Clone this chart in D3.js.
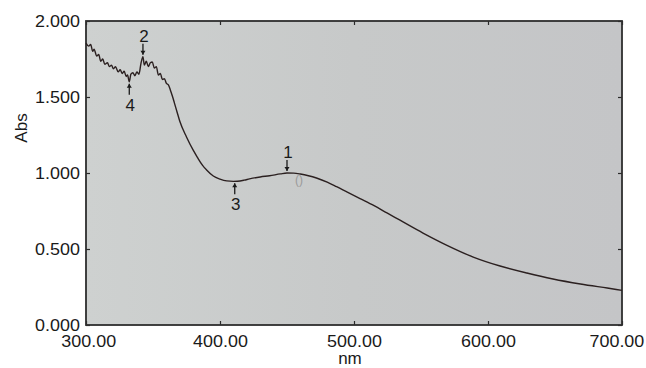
<!DOCTYPE html>
<html>
<head>
<meta charset="utf-8">
<script src="https://cdn.jsdelivr.net/npm/d3@7"></script>
<style>
  body { margin: 0; background: #fff; }
  svg { display: block; font-family: "Liberation Sans", Arial, sans-serif; }
</style>
</head>
<body>
<div id="chart"></div>
<script>
// wavelength (nm) and absorbance
const wavelengths = [300, 302, 303.5, 305, 306, 308, 309.5, 311, 312.5, 314, 316, 317.5, 319, 320.5, 322, 324, 325.5, 327, 328.5, 330, 331, 332.3, 333.5, 335, 336.5, 338, 339.5, 341, 342.5, 343.5, 345, 346.5, 348, 349.5, 351, 352.5, 354, 355.5, 357, 358.5, 360, 361.5, 363, 364.5, 366, 368, 370, 375, 380, 383, 387, 390, 395, 400, 405, 410, 413, 418, 422, 430, 437, 445, 450, 455, 460, 466, 472, 480, 487, 495, 504.5, 515, 524.6, 534, 551.5, 569, 589, 609, 629, 648.5, 669, 689, 700];
const absorbance = [1.855, 1.835, 1.845, 1.80, 1.815, 1.77, 1.78, 1.735, 1.75, 1.715, 1.725, 1.70, 1.71, 1.685, 1.70, 1.665, 1.68, 1.655, 1.67, 1.635, 1.645, 1.60, 1.65, 1.66, 1.64, 1.665, 1.65, 1.72, 1.765, 1.71, 1.735, 1.70, 1.725, 1.73, 1.69, 1.70, 1.645, 1.655, 1.615, 1.62, 1.59, 1.58, 1.545, 1.505, 1.46, 1.40, 1.34, 1.237, 1.15, 1.105, 1.05, 1.02, 0.98, 0.960, 0.948, 0.945, 0.946, 0.953, 0.961, 0.974, 0.982, 0.994, 1.000, 0.999, 0.993, 0.982, 0.967, 0.940, 0.910, 0.874, 0.832, 0.785, 0.737, 0.691, 0.605, 0.526, 0.447, 0.388, 0.342, 0.303, 0.270, 0.243, 0.228];

// numbered peak / valley markers
const markerLabels = ['1', '2', '3', '4'];
const markerNm = [450, 342.5, 411, 332.3];
const markerAbs = [1.000, 1.765, 0.945, 1.60];
const markerSide = ['above', 'above', 'below', 'below'];

const xTicks = [300, 400, 500, 600, 700];
const yTicks = [0, 0.5, 1.0, 1.5, 2.0];

const margin = { top: 21, right: 24, bottom: 43, left: 86 };
const width = 646 - margin.left - margin.right;
const height = 368 - margin.top - margin.bottom;

const svgRoot = d3.select('#chart')
  .append('svg')
  .attr('width', 646)
  .attr('height', 368);

// gray background of the plot area
const defs = svgRoot.append('defs');
const grad = defs.append('linearGradient').attr('id', 'bg').attr('x1', 0).attr('x2', 1).attr('y1', 0).attr('y2', 0);
grad.append('stop').attr('offset', '0%').attr('stop-color', '#ced1d0');
grad.append('stop').attr('offset', '50%').attr('stop-color', '#c7c9c9');
grad.append('stop').attr('offset', '100%').attr('stop-color', '#c4c5c7');

const svg = svgRoot.append('g')
  .attr('transform', `translate(${margin.left},${margin.top})`);

svg.append('rect')
  .attr('width', width)
  .attr('height', height)
  .attr('fill', 'url(#bg)');

const x = d3.scaleLinear().domain([300, 700]).range([0, width]);
const y = d3.scaleLinear().domain([0, 2]).range([height, 0]);

// axes: ticks point inward
const fmtX = d3.format('.2f');
const fmtY = d3.format('.3f');

const xAxis = svg.append('g')
  .attr('transform', `translate(0,${height})`)
  .call(d3.axisBottom(x).tickValues(xTicks).tickSize(-4).tickPadding(12).tickFormat(fmtX));

const yAxis = svg.append('g')
  .call(d3.axisLeft(y).tickValues(yTicks).tickSize(-4).tickPadding(9).tickFormat(fmtY));

svg.append('g')
  .call(d3.axisTop(x).tickValues(xTicks).tickSize(-4).tickFormat(''));

svg.append('g')
  .attr('transform', `translate(${width},0)`)
  .call(d3.axisRight(y).tickValues(yTicks).tickSize(-4).tickFormat(''));

svg.selectAll('.domain').remove();
svg.selectAll('.tick line').attr('stroke', '#2a2a2a').attr('stroke-width', 1.2);

[xAxis, yAxis].forEach(ax => {
  ax.selectAll('text')
    .attr('fill', '#1a1a1a')
    .style('font-size', '16px')
    .attr('transform', 'scale(1.12,1)');
});
xAxis.selectAll('text').attr('dy', '0.6em');
// outermost x labels sit a little inside, as in the reference
xAxis.selectAll('text').filter(d => d === 700).attr('x', -5);
xAxis.selectAll('text').filter(d => d === 300).attr('x', 2);
yAxis.selectAll('text').attr('x', -5.5);

// frame
svg.append('rect')
  .attr('width', width)
  .attr('height', height)
  .attr('fill', 'none')
  .attr('stroke', '#2e2e2e')
  .attr('stroke-width', 1.8);

// spectrum
const line = d3.line()
  .x((d, i) => x(wavelengths[i]))
  .y(d => y(d))
  .curve(d3.curveMonotoneX);

svg.append('path')
  .datum(absorbance)
  .attr('d', line)
  .attr('fill', 'none')
  .attr('stroke', '#2b2020')
  .attr('stroke-width', 1.4)
  .attr('stroke-linejoin', 'round');

// markers
markerLabels.forEach((lab, i) => {
  const mx = x(markerNm[i]);
  const my = y(markerAbs[i]);
  const dir = markerSide[i] === 'above' ? -1 : 1;
  svg.append('line')
    .attr('x1', mx).attr('x2', mx)
    .attr('y1', my + dir * 2).attr('y2', my + dir * 13)
    .attr('stroke', '#1a1a1a')
    .attr('stroke-width', 1.3);
  svg.append('path')
    .attr('d', `M${mx - 2.5},${my + dir * 6} L${mx + 2.5},${my + dir * 6} L${mx},${my + dir * 2} Z`)
    .attr('fill', '#1a1a1a');
  svg.append('text')
    .attr('x', mx + 1)
    .attr('y', markerSide[i] === 'above' ? my - 15 : my + 29)
    .attr('text-anchor', 'middle')
    .attr('fill', '#1a1a1a')
    .style('font-size', '17px')
    .text(lab);
});

// faint mark next to peak 1
svg.append('text')
  .attr('x', x(459))
  .attr('y', y(0.93))
  .attr('text-anchor', 'middle')
  .attr('fill', '#9a9a9a')
  .style('font-size', '12px')
  .text('()');

// axis titles
svgRoot.append('text')
  .attr('x', margin.left + x(497))
  .attr('y', 364)
  .attr('text-anchor', 'middle')
  .attr('fill', '#1a1a1a')
  .style('font-size', '17px')
  .text('nm');

svgRoot.append('text')
  .attr('transform', `translate(27,128) rotate(-90)`)
  .attr('text-anchor', 'middle')
  .attr('fill', '#1a1a1a')
  .style('font-size', '17px')
  .text('Abs');
</script>
</body>
</html>
